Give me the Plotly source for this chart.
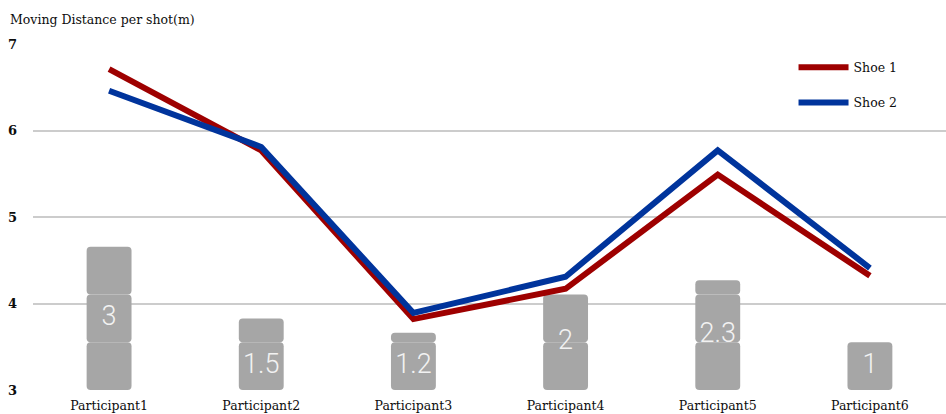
import math
import plotly.graph_objects as go

participants = ["Participant1", "Participant2", "Participant3",
                "Participant4", "Participant5", "Participant6"]
shoe1 = [6.71, 5.77, 3.82, 4.17, 5.49, 4.32]
shoe2 = [6.46, 5.81, 3.89, 4.31, 5.77, 4.41]
shots = [3, 1.5, 1.2, 2, 2.3, 1]
shot_labels = ["3", "1.5", "1.2", "2", "2.3", "1"]

GREY = "#a6a6a6"
RED = "#9e0000"
BLUE = "#00349c"
SERIF = "DejaVu Serif"
INK = "#0d0d0d"

fig = go.Figure()

# Pictograph columns: each whole unit is one rounded block, stacked upward.
n_blocks = max(math.ceil(v) for v in shots)
for k in range(n_blocks):
    xs, heights = [], []
    for p, v in zip(participants, shots):
        h = min(1.0, v - k)
        if h <= 0:
            continue
        xs.append(p)
        heights.append(h)
    fig.add_trace(go.Bar(
        x=xs, y=heights, base=[k] * len(xs),
        width=0.295, marker=dict(color=GREY, cornerradius=4, line_width=0),
        yaxis="y", showlegend=False, hoverinfo="skip",
    ))

fig.add_trace(go.Scatter(
    x=participants,
    y=[v / 2 if v >= 2 else 0.5 for v in shots],
    text=shot_labels, mode="text", yaxis="y",
    textfont=dict(family="Roboto", size=27, color="#f2f2f2", weight=300),
    showlegend=False, hoverinfo="skip",
))

fig.add_trace(go.Scatter(
    x=participants, y=shoe1, name="Shoe 1", mode="lines", yaxis="y2",
    line=dict(color=RED, width=6), legendgroup="s1",
))
fig.add_trace(go.Scatter(
    x=participants, y=shoe2, name="Shoe 2", mode="lines", yaxis="y2",
    line=dict(color=BLUE, width=6), legendgroup="s2",
))

fig.update_layout(
    width=946, height=414,
    margin=dict(l=33, r=0, t=44, b=24),
    paper_bgcolor="white", plot_bgcolor="white",
    barmode="overlay",
    title=dict(text="Moving Distance per shot(m)", x=10 / 946, xanchor="left",
               y=1 - 20 / 414, yanchor="middle",
               font=dict(family=SERIF, size=12.5, color=INK)),
    xaxis=dict(showgrid=False, showline=False, zeroline=False, ticks="",
               tickfont=dict(family=SERIF, size=12.5, color=INK),
               ticklabelstandoff=6, range=[-0.5, 5.5]),
    yaxis=dict(range=[0, 7.25], visible=False, showgrid=False, zeroline=False),
    yaxis2=dict(range=[3, 7], overlaying="y", side="left", dtick=1,
                showgrid=True, gridcolor="#cccccc", gridwidth=1.5,
                zeroline=False, showline=False, ticks="", ticklabelstandoff=15,
                tickfont=dict(family=SERIF, size=13, color=INK, weight="bold")),
    legend=dict(x=0.833, y=0.975, xanchor="left", yanchor="top",
                bgcolor="rgba(0,0,0,0)", traceorder="grouped",
                tracegroupgap=16, itemwidth=50,
                font=dict(family=SERIF, size=12.5, color=INK)),
    showlegend=True,
)

fig.write_html("out.html")
